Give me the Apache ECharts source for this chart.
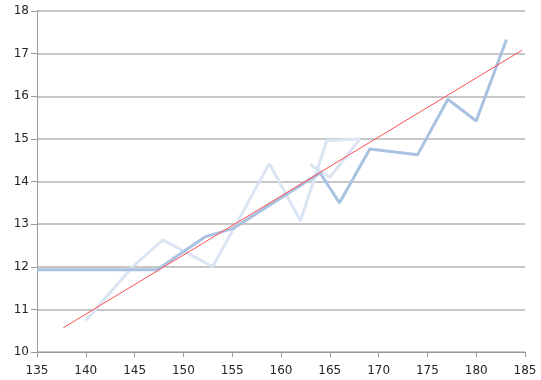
<!DOCTYPE html>
<html><head><meta charset="utf-8">
<script src="https://cdn.jsdelivr.net/npm/echarts@6/dist/echarts.min.js"></script>
<style>html,body{margin:0;padding:0;background:#fff}#c{width:541px;height:380px}</style>
</head><body><div id="c"></div>
<script>
// Dark blue series (x, y)
var darkX = [135, 147.3, 152.2, 155.1, 164, 166, 169.1, 174, 177.1, 180, 183.1];
var darkY = [11.93, 11.93, 12.7, 12.9, 14.2, 13.5, 14.76, 14.63, 15.93, 15.42, 17.33];
// Light blue series (x, y)
var lightX = [140, 144.8, 147.9, 153, 158.8, 162, 164.7, 168.1];
var lightY = [10.74, 12.0, 12.63, 12.0, 14.42, 13.08, 14.96, 15.0];
// Light blue second piece
var light2X = [163, 165, 168.1];
var light2Y = [14.4, 14.1, 15.0];
// Trend line
var trendX = [137.7, 184.7];
var trendY = [10.57, 17.08];
var xTicks = [135, 185, 5];
var yTicks = [10, 18, 1];

function pairs(xs, ys){ return xs.map(function(x,i){return [x, ys[i]];}); }
var chart = echarts.init(document.getElementById('c'), null, {renderer:'canvas'});
var font = 'DejaVu Sans';
chart.setOption({
  animation:false,
  grid:{left:37, right:16, top:11, bottom:28},
  xAxis:{type:'value', min:xTicks[0], max:xTicks[1], interval:xTicks[2],
    axisLine:{show:true, lineStyle:{color:'#9a9a9a', width:1}},
    axisTick:{show:true, inside:false, length:5, lineStyle:{color:'#9a9a9a'}},
    axisLabel:{color:'#262626', fontFamily:font, fontSize:12, margin:13},
    splitLine:{show:false}},
  yAxis:{type:'value', min:yTicks[0], max:yTicks[1], interval:yTicks[2],
    axisLine:{show:true, lineStyle:{color:'#9a9a9a', width:1}},
    axisTick:{show:true, inside:false, length:6, lineStyle:{color:'#9a9a9a'}},
    axisLabel:{color:'#262626', fontFamily:font, fontSize:12, margin:8},
    splitLine:{show:true, lineStyle:{color:'#b4b4b4', width:1.5}}},
  series:[
    {type:'line', data:pairs(lightX, lightY), showSymbol:false, lineStyle:{color:'#dae4f2', width:3}, z:2},
    {type:'line', data:pairs(light2X, light2Y), showSymbol:false, lineStyle:{color:'#dae4f2', width:3}, z:2},
    {type:'line', data:pairs(darkX, darkY), showSymbol:false, lineStyle:{color:'#aac2e2', width:3}, z:3},
    {type:'line', data:pairs(trendX, trendY), showSymbol:false, lineStyle:{color:'#ff4f4f', width:1}, z:4}
  ]
});
</script></body></html>
